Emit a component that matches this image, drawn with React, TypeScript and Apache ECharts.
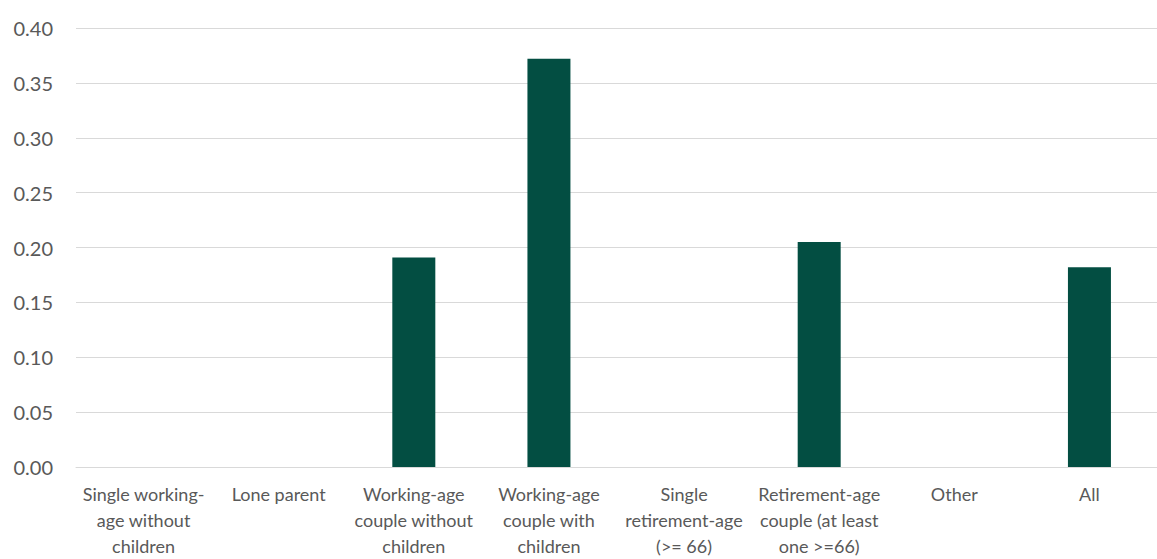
import React, { useEffect, useRef } from "react";
import * as echarts from "echarts";

const categories: string[] = [
  "Single working-\nage without\nchildren",
  "Lone parent",
  "Working-age\ncouple without\nchildren",
  "Working-age\ncouple with\nchildren",
  "Single\nretirement-age\n(>= 66)",
  "Retirement-age\ncouple (at least\none >=66)",
  "Other",
  "All",
];

const values: (number | null)[] = [null, null, 0.191, 0.372, null, 0.205, null, 0.182];

const yMin = 0;
const yMax = 0.4;
const yInterval = 0.05;

export default function App() {
  const ref = useRef<HTMLDivElement>(null);

  useEffect(() => {
    if (!ref.current) return;
    const chart = echarts.init(ref.current, undefined, { renderer: "svg" });
    const font = "Lato, 'Open Sans', sans-serif";
    chart.setOption({
      animation: false,
      backgroundColor: "#ffffff",
      grid: { left: 76, right: -12, top: 28, bottom: 88, containLabel: false },
      xAxis: {
        type: "category",
        data: categories,
        axisLine: { show: true, lineStyle: { color: "#D9D9D9", width: 1 } },
        axisTick: { show: false },
        axisLabel: {
          interval: 0,
          color: "#595959",
          fontFamily: font,
          fontSize: 18,
          lineHeight: 26,
          margin: 14,
          align: "center",
        },
      },
      yAxis: {
        type: "value",
        min: yMin,
        max: yMax,
        interval: yInterval,
        axisLine: { show: false },
        axisTick: { show: false },
        splitLine: { show: true, lineStyle: { color: "#D9D9D9", width: 1 } },
        axisLabel: {
          color: "#595959",
          fontFamily: font,
          fontSize: 20,
          margin: 23,
          formatter: (v: number) => v.toFixed(2),
        },
      },
      series: [
        {
          type: "bar",
          data: values.map((v) => (v === null ? "-" : v)),
          barWidth: 43,
          itemStyle: { color: "#034E42" },
        },
      ],
    });
    return () => chart.dispose();
  }, []);

  return (
    <div
      ref={ref}
      style={{ position: "fixed", left: 0, top: 0, width: 1157, height: 559 }}
    />
  );
}
